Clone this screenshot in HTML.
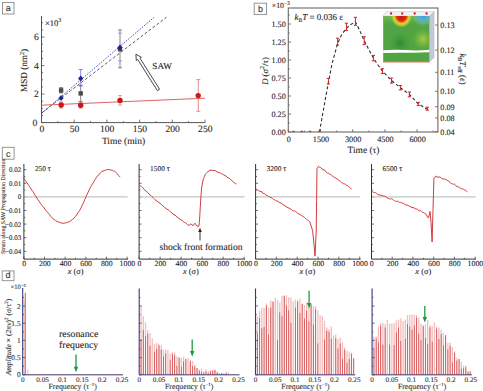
<!DOCTYPE html>
<html><head><meta charset="utf-8"><style>
html,body{margin:0;padding:0;background:#fff;width:483px;height:391px;overflow:hidden;}
svg{display:block;text-rendering:geometricPrecision;}
text{stroke:#333;stroke-width:0.1px;}
</style></head><body>
<svg width="483" height="391" viewBox="0 0 483 391"><rect x="2.5" y="2.5" width="11.5" height="11.5" fill="#fff" stroke="#8a8a8a" stroke-width="0.9"/>
<text x="8.25" y="11.40" font-size="9" text-anchor="middle" font-family='"Liberation Sans", sans-serif' fill="#333" >a</text>
<line x1="41.50" y1="16.00" x2="41.50" y2="122.60" stroke="#555" stroke-width="1" />
<line x1="41.50" y1="122.60" x2="205.20" y2="122.60" stroke="#555" stroke-width="1" />
<line x1="41.50" y1="122.60" x2="44.50" y2="122.60" stroke="#555" stroke-width="0.8" />
<line x1="41.50" y1="115.47" x2="43.10" y2="115.47" stroke="#555" stroke-width="0.8" />
<line x1="41.50" y1="108.35" x2="43.10" y2="108.35" stroke="#555" stroke-width="0.8" />
<line x1="41.50" y1="101.22" x2="43.10" y2="101.22" stroke="#555" stroke-width="0.8" />
<line x1="41.50" y1="94.10" x2="44.50" y2="94.10" stroke="#555" stroke-width="0.8" />
<line x1="41.50" y1="86.97" x2="43.10" y2="86.97" stroke="#555" stroke-width="0.8" />
<line x1="41.50" y1="79.85" x2="43.10" y2="79.85" stroke="#555" stroke-width="0.8" />
<line x1="41.50" y1="72.72" x2="43.10" y2="72.72" stroke="#555" stroke-width="0.8" />
<line x1="41.50" y1="65.60" x2="44.50" y2="65.60" stroke="#555" stroke-width="0.8" />
<line x1="41.50" y1="58.47" x2="43.10" y2="58.47" stroke="#555" stroke-width="0.8" />
<line x1="41.50" y1="51.35" x2="43.10" y2="51.35" stroke="#555" stroke-width="0.8" />
<line x1="41.50" y1="44.22" x2="43.10" y2="44.22" stroke="#555" stroke-width="0.8" />
<line x1="41.50" y1="37.10" x2="44.50" y2="37.10" stroke="#555" stroke-width="0.8" />
<line x1="41.50" y1="29.97" x2="43.10" y2="29.97" stroke="#555" stroke-width="0.8" />
<line x1="41.50" y1="22.85" x2="43.10" y2="22.85" stroke="#555" stroke-width="0.8" />
<line x1="41.50" y1="122.60" x2="41.50" y2="119.60" stroke="#555" stroke-width="0.8" />
<line x1="57.85" y1="122.60" x2="57.85" y2="121.00" stroke="#555" stroke-width="0.8" />
<line x1="74.20" y1="122.60" x2="74.20" y2="119.60" stroke="#555" stroke-width="0.8" />
<line x1="90.55" y1="122.60" x2="90.55" y2="121.00" stroke="#555" stroke-width="0.8" />
<line x1="106.90" y1="122.60" x2="106.90" y2="119.60" stroke="#555" stroke-width="0.8" />
<line x1="123.25" y1="122.60" x2="123.25" y2="121.00" stroke="#555" stroke-width="0.8" />
<line x1="139.60" y1="122.60" x2="139.60" y2="119.60" stroke="#555" stroke-width="0.8" />
<line x1="155.95" y1="122.60" x2="155.95" y2="121.00" stroke="#555" stroke-width="0.8" />
<line x1="172.30" y1="122.60" x2="172.30" y2="119.60" stroke="#555" stroke-width="0.8" />
<line x1="188.65" y1="122.60" x2="188.65" y2="121.00" stroke="#555" stroke-width="0.8" />
<line x1="205.00" y1="122.60" x2="205.00" y2="119.60" stroke="#555" stroke-width="0.8" />
<text x="37.20" y="125.90" font-size="9.6" text-anchor="end" font-family='"Liberation Serif", serif' fill="#222" >0</text>
<text x="38.80" y="97.40" font-size="9.6" text-anchor="end" font-family='"Liberation Serif", serif' fill="#222" >2</text>
<text x="38.80" y="68.90" font-size="9.6" text-anchor="end" font-family='"Liberation Serif", serif' fill="#222" >4</text>
<text x="38.80" y="40.40" font-size="9.6" text-anchor="end" font-family='"Liberation Serif", serif' fill="#222" >6</text>
<text x="41.80" y="131.50" font-size="9.6" text-anchor="middle" font-family='"Liberation Serif", serif' fill="#222" >0</text>
<text x="74.50" y="131.50" font-size="9.6" text-anchor="middle" font-family='"Liberation Serif", serif' fill="#222" >50</text>
<text x="107.20" y="131.50" font-size="9.6" text-anchor="middle" font-family='"Liberation Serif", serif' fill="#222" >100</text>
<text x="139.90" y="131.50" font-size="9.6" text-anchor="middle" font-family='"Liberation Serif", serif' fill="#222" >150</text>
<text x="172.60" y="131.50" font-size="9.6" text-anchor="middle" font-family='"Liberation Serif", serif' fill="#222" >200</text>
<text x="205.30" y="131.50" font-size="9.6" text-anchor="middle" font-family='"Liberation Serif", serif' fill="#222" >250</text>
<text x="123.50" y="144.00" font-size="9.5" text-anchor="middle" font-family='"Liberation Serif", serif' fill="#222" >Time (min)</text>
<text x="45.00" y="25.50" font-size="8.5" text-anchor="start" font-family='"Liberation Serif", serif' fill="#222" >×10<tspan font-size="6" dy="-3.5">3</tspan></text>
<text transform="translate(27,70.5) rotate(-90)" font-size="9.2" text-anchor="middle" font-family='"Liberation Serif", serif' fill="#222">MSD (nm<tspan font-size="6" dy="-3.5">2</tspan><tspan dy="3.5">)</tspan></text>
<line x1="41.50" y1="113.40" x2="154.20" y2="17.20" stroke="#3a3ac8" stroke-width="0.9" stroke-dasharray="1.6,1.4"/>
<line x1="41.50" y1="113.00" x2="166.50" y2="17.20" stroke="#333" stroke-width="0.8" stroke-dasharray="3,2"/>
<line x1="41.50" y1="105.20" x2="205.00" y2="98.20" stroke="#dc5050" stroke-width="0.9" />
<line x1="61.10" y1="87.60" x2="61.10" y2="93.00" stroke="#777" stroke-width="0.9" />
<line x1="59.10" y1="87.60" x2="63.10" y2="87.60" stroke="#777" stroke-width="0.9" />
<line x1="59.10" y1="93.00" x2="63.10" y2="93.00" stroke="#777" stroke-width="0.9" />
<line x1="80.70" y1="85.30" x2="80.70" y2="101.40" stroke="#777" stroke-width="0.9" />
<line x1="78.70" y1="85.30" x2="82.70" y2="85.30" stroke="#777" stroke-width="0.9" />
<line x1="78.70" y1="101.40" x2="82.70" y2="101.40" stroke="#777" stroke-width="0.9" />
<line x1="120.00" y1="29.90" x2="120.00" y2="67.80" stroke="#6a6a6a" stroke-width="0.8" />
<line x1="118.00" y1="29.90" x2="122.00" y2="29.90" stroke="#6a6a6a" stroke-width="0.8" />
<line x1="118.00" y1="67.80" x2="122.00" y2="67.80" stroke="#6a6a6a" stroke-width="0.8" />
<line x1="80.70" y1="69.50" x2="80.70" y2="86.00" stroke="#6a6ad0" stroke-width="0.8" />
<line x1="78.70" y1="69.50" x2="82.70" y2="69.50" stroke="#6a6ad0" stroke-width="0.8" />
<line x1="78.70" y1="86.00" x2="82.70" y2="86.00" stroke="#6a6ad0" stroke-width="0.8" />
<line x1="118.00" y1="33.20" x2="122.00" y2="33.20" stroke="#8a8ad8" stroke-width="0.8" />
<line x1="118.00" y1="60.80" x2="122.00" y2="60.80" stroke="#8a8ad8" stroke-width="0.8" />
<line x1="61.10" y1="102.00" x2="61.10" y2="108.00" stroke="#e07a7a" stroke-width="0.9" />
<line x1="59.10" y1="102.00" x2="63.10" y2="102.00" stroke="#e07a7a" stroke-width="0.9" />
<line x1="59.10" y1="108.00" x2="63.10" y2="108.00" stroke="#e07a7a" stroke-width="0.9" />
<line x1="80.70" y1="102.00" x2="80.70" y2="108.00" stroke="#e07a7a" stroke-width="0.9" />
<line x1="78.70" y1="102.00" x2="82.70" y2="102.00" stroke="#e07a7a" stroke-width="0.9" />
<line x1="78.70" y1="108.00" x2="82.70" y2="108.00" stroke="#e07a7a" stroke-width="0.9" />
<line x1="120.00" y1="95.50" x2="120.00" y2="105.10" stroke="#c8a0a0" stroke-width="0.9" />
<line x1="118.00" y1="95.50" x2="122.00" y2="95.50" stroke="#c8a0a0" stroke-width="0.9" />
<line x1="118.00" y1="105.10" x2="122.00" y2="105.10" stroke="#c8a0a0" stroke-width="0.9" />
<line x1="198.30" y1="79.60" x2="198.30" y2="111.30" stroke="#e08080" stroke-width="0.9" />
<line x1="196.30" y1="79.60" x2="200.30" y2="79.60" stroke="#e08080" stroke-width="0.9" />
<line x1="196.30" y1="111.30" x2="200.30" y2="111.30" stroke="#e08080" stroke-width="0.9" />
<rect x="58.90" y="88.20" width="4.4" height="4.4" fill="#4a4a4a"/>
<rect x="78.50" y="91.20" width="4.4" height="4.4" fill="#4a4a4a"/>
<rect x="117.80" y="47.00" width="4.4" height="4.4" fill="#4a4a4a"/>
<polygon points="61.1,95 63.7,98 61.1,101 58.5,98" fill="#22228e"/>
<polygon points="80.7,75.4 83.3,78.4 80.7,81.4 78.10000000000001,78.4" fill="#22228e"/>
<polygon points="120,44.6 122.6,47.6 120,50.6 117.4,47.6" fill="#22228e"/>
<circle cx="61.2" cy="105" r="2.7" fill="#c81818"/>
<circle cx="80.7" cy="105.2" r="2.7" fill="#c81818"/>
<circle cx="120" cy="100.5" r="2.7" fill="#c81818"/>
<circle cx="198.2" cy="95.6" r="2.7" fill="#c81818"/>
<polygon points="159.60,89.31 139.94,58.16 141.37,57.25 135.90,54.20 136.30,60.45 137.74,59.54 157.40,90.69" fill="#fff" stroke="#333" stroke-width="0.9"/>
<text x="152.30" y="68.80" font-size="9.2" text-anchor="start" font-family='"Liberation Serif", serif' fill="#222" >SAW</text>
<rect x="254.2" y="3.2" width="12.4" height="11.4" fill="#fff" stroke="#8a8a8a" stroke-width="0.9"/>
<text x="260.40" y="12.00" font-size="9" text-anchor="middle" font-family='"Liberation Sans", sans-serif' fill="#333" >b</text>
<rect x="288.3" y="8.0" width="149.59999999999997" height="124.0" fill="none" stroke="#6a6a6a" stroke-width="1.1"/>
<line x1="288.30" y1="132.00" x2="291.10" y2="132.00" stroke="#6a6a6a" stroke-width="0.9" />
<line x1="288.30" y1="123.00" x2="289.80" y2="123.00" stroke="#6a6a6a" stroke-width="0.9" />
<line x1="288.30" y1="114.00" x2="291.10" y2="114.00" stroke="#6a6a6a" stroke-width="0.9" />
<line x1="288.30" y1="105.00" x2="289.80" y2="105.00" stroke="#6a6a6a" stroke-width="0.9" />
<line x1="288.30" y1="96.00" x2="291.10" y2="96.00" stroke="#6a6a6a" stroke-width="0.9" />
<line x1="288.30" y1="87.00" x2="289.80" y2="87.00" stroke="#6a6a6a" stroke-width="0.9" />
<line x1="288.30" y1="78.00" x2="291.10" y2="78.00" stroke="#6a6a6a" stroke-width="0.9" />
<line x1="288.30" y1="69.00" x2="289.80" y2="69.00" stroke="#6a6a6a" stroke-width="0.9" />
<line x1="288.30" y1="60.00" x2="291.10" y2="60.00" stroke="#6a6a6a" stroke-width="0.9" />
<line x1="288.30" y1="51.00" x2="289.80" y2="51.00" stroke="#6a6a6a" stroke-width="0.9" />
<line x1="288.30" y1="42.00" x2="291.10" y2="42.00" stroke="#6a6a6a" stroke-width="0.9" />
<line x1="288.30" y1="33.00" x2="289.80" y2="33.00" stroke="#6a6a6a" stroke-width="0.9" />
<line x1="288.30" y1="24.00" x2="291.10" y2="24.00" stroke="#6a6a6a" stroke-width="0.9" />
<line x1="288.30" y1="15.00" x2="289.80" y2="15.00" stroke="#6a6a6a" stroke-width="0.9" />
<line x1="288.30" y1="132.00" x2="288.30" y2="129.20" stroke="#6a6a6a" stroke-width="0.9" />
<line x1="304.40" y1="132.00" x2="304.40" y2="130.50" stroke="#6a6a6a" stroke-width="0.9" />
<line x1="320.50" y1="132.00" x2="320.50" y2="129.20" stroke="#6a6a6a" stroke-width="0.9" />
<line x1="336.60" y1="132.00" x2="336.60" y2="130.50" stroke="#6a6a6a" stroke-width="0.9" />
<line x1="352.70" y1="132.00" x2="352.70" y2="129.20" stroke="#6a6a6a" stroke-width="0.9" />
<line x1="368.80" y1="132.00" x2="368.80" y2="130.50" stroke="#6a6a6a" stroke-width="0.9" />
<line x1="384.90" y1="132.00" x2="384.90" y2="129.20" stroke="#6a6a6a" stroke-width="0.9" />
<line x1="401.00" y1="132.00" x2="401.00" y2="130.50" stroke="#6a6a6a" stroke-width="0.9" />
<line x1="417.10" y1="132.00" x2="417.10" y2="129.20" stroke="#6a6a6a" stroke-width="0.9" />
<line x1="433.20" y1="132.00" x2="433.20" y2="130.50" stroke="#6a6a6a" stroke-width="0.9" />
<text x="285.80" y="134.90" font-size="8.2" text-anchor="end" font-family='"Liberation Serif", serif' fill="#222" >0.00</text>
<text x="285.80" y="116.90" font-size="8.2" text-anchor="end" font-family='"Liberation Serif", serif' fill="#222" >0.25</text>
<text x="285.80" y="98.90" font-size="8.2" text-anchor="end" font-family='"Liberation Serif", serif' fill="#222" >0.50</text>
<text x="285.80" y="80.90" font-size="8.2" text-anchor="end" font-family='"Liberation Serif", serif' fill="#222" >0.75</text>
<text x="285.80" y="62.90" font-size="8.2" text-anchor="end" font-family='"Liberation Serif", serif' fill="#222" >1.00</text>
<text x="285.80" y="44.90" font-size="8.2" text-anchor="end" font-family='"Liberation Serif", serif' fill="#222" >1.25</text>
<text x="285.80" y="26.90" font-size="8.2" text-anchor="end" font-family='"Liberation Serif", serif' fill="#222" >1.50</text>
<text x="288.80" y="141.50" font-size="8.2" text-anchor="middle" font-family='"Liberation Serif", serif' fill="#222" >0</text>
<text x="321.00" y="141.50" font-size="8.2" text-anchor="middle" font-family='"Liberation Serif", serif' fill="#222" >1500</text>
<text x="353.20" y="141.50" font-size="8.2" text-anchor="middle" font-family='"Liberation Serif", serif' fill="#222" >3000</text>
<text x="385.40" y="141.50" font-size="8.2" text-anchor="middle" font-family='"Liberation Serif", serif' fill="#222" >4500</text>
<text x="417.60" y="141.50" font-size="8.2" text-anchor="middle" font-family='"Liberation Serif", serif' fill="#222" >6000</text>
<text x="363.50" y="153.20" font-size="9.4" text-anchor="middle" font-family='"Liberation Serif", serif' fill="#222" >Time (τ)</text>
<text x="271.80" y="8.30" font-size="7.8" text-anchor="start" font-family='"Liberation Serif", serif' fill="#222" >×10<tspan font-size="5.5" dy="-3">−3</tspan></text>
<text transform="translate(267.8,71) rotate(-90)" font-size="8.6" text-anchor="middle" font-family='"Liberation Serif", serif' fill="#222"><tspan font-style="italic">D</tspan> (σ<tspan font-size="6" dy="-3.5">2</tspan><tspan dy="3.5">/τ)</tspan></text>
<text x="294.50" y="19.80" font-size="9.0" text-anchor="start" font-family='"Liberation Serif", serif' fill="#222" ><tspan font-style="italic">k</tspan><tspan font-size="5.5" dy="2">B</tspan><tspan dy="-2" font-style="italic">T</tspan> = 0.036 ε</text>
<line x1="437.90" y1="25.00" x2="435.10" y2="25.00" stroke="#6a6a6a" stroke-width="0.9" />
<text x="440.30" y="27.90" font-size="8.2" text-anchor="start" font-family='"Liberation Serif", serif' fill="#222" >0.13</text>
<line x1="437.90" y1="50.10" x2="435.10" y2="50.10" stroke="#6a6a6a" stroke-width="0.9" />
<text x="440.30" y="53.00" font-size="8.2" text-anchor="start" font-family='"Liberation Serif", serif' fill="#222" >0.12</text>
<line x1="437.90" y1="72.30" x2="435.10" y2="72.30" stroke="#6a6a6a" stroke-width="0.9" />
<text x="440.30" y="75.20" font-size="8.2" text-anchor="start" font-family='"Liberation Serif", serif' fill="#222" >0.11</text>
<line x1="437.90" y1="91.30" x2="435.10" y2="91.30" stroke="#6a6a6a" stroke-width="0.9" />
<text x="440.30" y="94.20" font-size="8.2" text-anchor="start" font-family='"Liberation Serif", serif' fill="#222" >0.10</text>
<line x1="437.90" y1="106.70" x2="435.10" y2="106.70" stroke="#6a6a6a" stroke-width="0.9" />
<text x="440.30" y="109.60" font-size="8.2" text-anchor="start" font-family='"Liberation Serif", serif' fill="#222" >0.09</text>
<line x1="437.90" y1="117.90" x2="435.10" y2="117.90" stroke="#6a6a6a" stroke-width="0.9" />
<text x="440.30" y="120.80" font-size="8.2" text-anchor="start" font-family='"Liberation Serif", serif' fill="#222" >0.08</text>
<line x1="437.90" y1="131.60" x2="435.10" y2="131.60" stroke="#6a6a6a" stroke-width="0.9" />
<text x="440.30" y="134.50" font-size="8.2" text-anchor="start" font-family='"Liberation Serif", serif' fill="#222" >0.04</text>
<text transform="translate(459.5,69) rotate(90)" font-size="8.8" text-anchor="middle" font-family='"Liberation Serif", serif' fill="#222"><tspan font-style="italic">k</tspan><tspan font-size="6" dy="2">B</tspan><tspan dy="-2" font-style="italic">T</tspan><tspan font-size="6" dy="2">eff</tspan><tspan dy="-2"> (ε)</tspan></text>
<polyline points="319.50,132.00 322.50,115.00 326.80,91.00 332.00,64.00 337.60,43.50 341.50,35.00 345.80,29.00 350.00,25.00 355.40,21.80 359.50,30.00 364.20,40.70 368.80,49.50 373.40,58.10 378.00,65.00 382.60,71.10 391.50,80.60 400.40,87.70 409.40,94.40 418.30,103.90 428.20,109.80" fill="none" stroke="#333" stroke-width="1.1" stroke-linejoin="round" stroke-dasharray="3.2,2.2"/>
<line x1="328.40" y1="78.40" x2="328.40" y2="84.00" stroke="#d42020" stroke-width="1.0" />
<line x1="326.80" y1="78.40" x2="330.00" y2="78.40" stroke="#d42020" stroke-width="1.0" />
<line x1="326.80" y1="84.00" x2="330.00" y2="84.00" stroke="#d42020" stroke-width="1.0" />
<line x1="337.60" y1="38.20" x2="337.60" y2="45.20" stroke="#d42020" stroke-width="1.0" />
<line x1="336.00" y1="38.20" x2="339.20" y2="38.20" stroke="#d42020" stroke-width="1.0" />
<line x1="336.00" y1="45.20" x2="339.20" y2="45.20" stroke="#d42020" stroke-width="1.0" />
<line x1="346.40" y1="23.20" x2="346.40" y2="30.40" stroke="#d42020" stroke-width="1.0" />
<line x1="344.80" y1="23.20" x2="348.00" y2="23.20" stroke="#d42020" stroke-width="1.0" />
<line x1="344.80" y1="30.40" x2="348.00" y2="30.40" stroke="#d42020" stroke-width="1.0" />
<line x1="355.40" y1="17.30" x2="355.40" y2="25.30" stroke="#d42020" stroke-width="1.0" />
<line x1="353.80" y1="17.30" x2="357.00" y2="17.30" stroke="#d42020" stroke-width="1.0" />
<line x1="353.80" y1="25.30" x2="357.00" y2="25.30" stroke="#d42020" stroke-width="1.0" />
<line x1="364.20" y1="36.80" x2="364.20" y2="44.60" stroke="#d42020" stroke-width="1.0" />
<line x1="362.60" y1="36.80" x2="365.80" y2="36.80" stroke="#d42020" stroke-width="1.0" />
<line x1="362.60" y1="44.60" x2="365.80" y2="44.60" stroke="#d42020" stroke-width="1.0" />
<line x1="373.40" y1="55.40" x2="373.40" y2="60.80" stroke="#d42020" stroke-width="1.0" />
<line x1="371.80" y1="55.40" x2="375.00" y2="55.40" stroke="#d42020" stroke-width="1.0" />
<line x1="371.80" y1="60.80" x2="375.00" y2="60.80" stroke="#d42020" stroke-width="1.0" />
<line x1="382.50" y1="68.80" x2="382.50" y2="73.40" stroke="#d42020" stroke-width="1.0" />
<line x1="380.90" y1="68.80" x2="384.10" y2="68.80" stroke="#d42020" stroke-width="1.0" />
<line x1="380.90" y1="73.40" x2="384.10" y2="73.40" stroke="#d42020" stroke-width="1.0" />
<line x1="391.50" y1="78.10" x2="391.50" y2="83.10" stroke="#d42020" stroke-width="1.0" />
<line x1="389.90" y1="78.10" x2="393.10" y2="78.10" stroke="#d42020" stroke-width="1.0" />
<line x1="389.90" y1="83.10" x2="393.10" y2="83.10" stroke="#d42020" stroke-width="1.0" />
<line x1="400.40" y1="85.50" x2="400.40" y2="89.90" stroke="#d42020" stroke-width="1.0" />
<line x1="398.80" y1="85.50" x2="402.00" y2="85.50" stroke="#d42020" stroke-width="1.0" />
<line x1="398.80" y1="89.90" x2="402.00" y2="89.90" stroke="#d42020" stroke-width="1.0" />
<line x1="409.40" y1="92.00" x2="409.40" y2="96.80" stroke="#d42020" stroke-width="1.0" />
<line x1="407.80" y1="92.00" x2="411.00" y2="92.00" stroke="#d42020" stroke-width="1.0" />
<line x1="407.80" y1="96.80" x2="411.00" y2="96.80" stroke="#d42020" stroke-width="1.0" />
<line x1="418.30" y1="102.40" x2="418.30" y2="105.40" stroke="#d42020" stroke-width="1.0" />
<line x1="416.70" y1="102.40" x2="419.90" y2="102.40" stroke="#d42020" stroke-width="1.0" />
<line x1="416.70" y1="105.40" x2="419.90" y2="105.40" stroke="#d42020" stroke-width="1.0" />
<line x1="427.30" y1="107.20" x2="427.30" y2="110.20" stroke="#d42020" stroke-width="1.0" />
<line x1="425.70" y1="107.20" x2="428.90" y2="107.20" stroke="#d42020" stroke-width="1.0" />
<line x1="425.70" y1="110.20" x2="428.90" y2="110.20" stroke="#d42020" stroke-width="1.0" />
<line x1="292.30" y1="131.40" x2="294.70" y2="131.40" stroke="#d42020" stroke-width="1.2" />
<line x1="300.60" y1="131.40" x2="303.00" y2="131.40" stroke="#d42020" stroke-width="1.2" />
<line x1="308.80" y1="131.40" x2="311.20" y2="131.40" stroke="#d42020" stroke-width="1.2" />
<line x1="318.20" y1="131.40" x2="320.60" y2="131.40" stroke="#d42020" stroke-width="1.2" />
<defs>
<clipPath id="fc"><rect x="383.1" y="16.1" width="46.5" height="45.8"/></clipPath>
<radialGradient id="hot" gradientUnits="userSpaceOnUse" cx="401.5" cy="15.3" r="11" gradientTransform="translate(0,-2.3) scale(1,1.15)">
<stop offset="0" stop-color="#c40a0a"/><stop offset="0.45" stop-color="#dc2a10"/><stop offset="0.66" stop-color="#f0cc20"/><stop offset="0.82" stop-color="#d0dc50" stop-opacity="0.6"/><stop offset="1" stop-color="#8cc040" stop-opacity="0"/></radialGradient>
<radialGradient id="cold" gradientUnits="userSpaceOnUse" cx="423" cy="15" r="12">
<stop offset="0" stop-color="#3a98e8"/><stop offset="0.4" stop-color="#50b0d8"/><stop offset="0.75" stop-color="#70b890" stop-opacity="0.6"/><stop offset="1" stop-color="#60b050" stop-opacity="0"/></radialGradient>
<radialGradient id="ylw" gradientUnits="userSpaceOnUse" cx="423" cy="39" r="11">
<stop offset="0" stop-color="#a8cc40"/><stop offset="1" stop-color="#78b840" stop-opacity="0"/></radialGradient>
<radialGradient id="dk" gradientUnits="userSpaceOnUse" cx="400" cy="43" r="11">
<stop offset="0" stop-color="#2e8a38"/><stop offset="1" stop-color="#3a9a3a" stop-opacity="0"/></radialGradient>
<linearGradient id="tg" x1="0" y1="0" x2="0" y2="1"><stop offset="0" stop-color="#70b850"/><stop offset="1" stop-color="#70b850" stop-opacity="0"/></linearGradient>
</defs>
<polygon points="383.1,16.1 385.70000000000005,11.600000000000001 434.1,11.600000000000001 429.6,16.1" fill="#f2f2f6" stroke="#c0c0cc" stroke-width="0.5"/>
<polygon points="429.6,16.1 434.1,11.600000000000001 434.1,57.4 429.6,61.9" fill="#c4c8d4" stroke="#a8b0c8" stroke-width="0.4"/>
<g clip-path="url(#fc)"><rect x="383.1" y="16.1" width="46.5" height="45.8" fill="#52a442"/>
<rect x="383.1" y="16.1" width="46.5" height="8" fill="url(#tg)"/>
<rect x="383.1" y="16.1" width="46.5" height="45.8" fill="url(#dk)"/>
<rect x="383.1" y="16.1" width="46.5" height="45.8" fill="url(#ylw)"/>
<rect x="383.1" y="16.1" width="46.5" height="45.8" fill="url(#cold)"/>
<rect x="383.1" y="16.1" width="46.5" height="45.8" fill="url(#hot)"/>
<path d="M383.1,50.300000000000004 Q395.1,49.300000000000004 406.1,50.1 T429.6,49.7 L429.6,52.300000000000004 Q418.1,52.9 406.1,52.7 T383.1,53.0 Z" fill="#fff"/></g>
<line x1="383.1" y1="62.199999999999996" x2="429.6" y2="62.199999999999996" stroke="#e07050" stroke-width="0.7"/>
<circle cx="391.1" cy="13.5" r="1.15" fill="#d01818"/>
<circle cx="402.2" cy="13.5" r="1.15" fill="#d01818"/>
<circle cx="414.7" cy="13.5" r="1.15" fill="#d01818"/>
<circle cx="426.6" cy="13.5" r="1.15" fill="#d01818"/>
<rect x="2.3" y="147.3" width="11.8" height="11.9" fill="#fff" stroke="#8a8a8a" stroke-width="0.9"/>
<text x="8.20" y="156.60" font-size="9" text-anchor="middle" font-family='"Liberation Sans", sans-serif' fill="#333" >c</text>
<line x1="23.90" y1="164.00" x2="23.90" y2="259.10" stroke="#333" stroke-width="1" />
<line x1="23.90" y1="259.10" x2="128.10" y2="259.10" stroke="#333" stroke-width="1" />
<line x1="23.90" y1="169.70" x2="26.40" y2="169.70" stroke="#333" stroke-width="0.7" />
<line x1="23.90" y1="176.50" x2="25.30" y2="176.50" stroke="#333" stroke-width="0.7" />
<line x1="23.90" y1="183.30" x2="26.40" y2="183.30" stroke="#333" stroke-width="0.7" />
<line x1="23.90" y1="190.10" x2="25.30" y2="190.10" stroke="#333" stroke-width="0.7" />
<line x1="23.90" y1="196.90" x2="26.40" y2="196.90" stroke="#333" stroke-width="0.7" />
<line x1="23.90" y1="203.70" x2="25.30" y2="203.70" stroke="#333" stroke-width="0.7" />
<line x1="23.90" y1="210.50" x2="26.40" y2="210.50" stroke="#333" stroke-width="0.7" />
<line x1="23.90" y1="217.30" x2="25.30" y2="217.30" stroke="#333" stroke-width="0.7" />
<line x1="23.90" y1="224.10" x2="26.40" y2="224.10" stroke="#333" stroke-width="0.7" />
<line x1="23.90" y1="230.90" x2="25.30" y2="230.90" stroke="#333" stroke-width="0.7" />
<line x1="23.90" y1="237.70" x2="26.40" y2="237.70" stroke="#333" stroke-width="0.7" />
<line x1="23.90" y1="244.50" x2="25.30" y2="244.50" stroke="#333" stroke-width="0.7" />
<line x1="23.90" y1="251.30" x2="26.40" y2="251.30" stroke="#333" stroke-width="0.7" />
<line x1="23.90" y1="259.10" x2="23.90" y2="256.60" stroke="#333" stroke-width="0.7" />
<line x1="34.22" y1="259.10" x2="34.22" y2="257.70" stroke="#333" stroke-width="0.7" />
<line x1="44.54" y1="259.10" x2="44.54" y2="256.60" stroke="#333" stroke-width="0.7" />
<line x1="54.86" y1="259.10" x2="54.86" y2="257.70" stroke="#333" stroke-width="0.7" />
<line x1="65.18" y1="259.10" x2="65.18" y2="256.60" stroke="#333" stroke-width="0.7" />
<line x1="75.50" y1="259.10" x2="75.50" y2="257.70" stroke="#333" stroke-width="0.7" />
<line x1="85.82" y1="259.10" x2="85.82" y2="256.60" stroke="#333" stroke-width="0.7" />
<line x1="96.14" y1="259.10" x2="96.14" y2="257.70" stroke="#333" stroke-width="0.7" />
<line x1="106.46" y1="259.10" x2="106.46" y2="256.60" stroke="#333" stroke-width="0.7" />
<line x1="116.78" y1="259.10" x2="116.78" y2="257.70" stroke="#333" stroke-width="0.7" />
<line x1="127.10" y1="259.10" x2="127.10" y2="256.60" stroke="#333" stroke-width="0.7" />
<text x="24.20" y="266.00" font-size="7.8" text-anchor="middle" font-family='"Liberation Serif", serif' fill="#222" >0</text>
<text x="44.84" y="266.00" font-size="7.8" text-anchor="middle" font-family='"Liberation Serif", serif' fill="#222" >200</text>
<text x="65.48" y="266.00" font-size="7.8" text-anchor="middle" font-family='"Liberation Serif", serif' fill="#222" >400</text>
<text x="86.12" y="266.00" font-size="7.8" text-anchor="middle" font-family='"Liberation Serif", serif' fill="#222" >600</text>
<text x="106.76" y="266.00" font-size="7.8" text-anchor="middle" font-family='"Liberation Serif", serif' fill="#222" >800</text>
<text x="127.40" y="266.00" font-size="7.8" text-anchor="middle" font-family='"Liberation Serif", serif' fill="#222" >1000</text>
<text x="75.70" y="273.50" font-size="8.4" text-anchor="middle" font-family='"Liberation Serif", serif' fill="#222" ><tspan font-style="italic">x</tspan> (σ)</text>
<line x1="24.40" y1="196.90" x2="127.60" y2="196.90" stroke="#c4c4c4" stroke-width="1.1" />
<text x="34.90" y="171.30" font-size="7.4" text-anchor="start" font-family='"Liberation Serif", serif' fill="#222" >250 τ</text>
<polyline points="23.60,177.58 25.11,180.22 26.19,181.76 27.28,183.04 28.39,184.84 29.50,186.47 30.58,188.25 31.66,189.99 32.77,191.30 33.88,192.98 34.89,195.03 35.90,196.36 37.57,199.19 39.04,201.06 40.50,203.47 42.01,205.57 43.50,207.04 45.00,209.27 46.49,211.19 47.99,212.64 49.50,214.52 51.07,216.61 52.66,218.54 54.20,219.63 55.64,220.59 57.04,221.51 58.50,221.92 60.07,222.58 61.69,223.10 63.30,223.30 64.89,223.02 66.46,222.67 68.00,222.13 69.50,221.61 70.97,220.66 72.40,219.41 73.80,218.54 75.16,216.77 76.50,215.09 77.85,212.91 79.18,211.34 80.40,209.22 81.44,206.79 82.38,204.94 83.30,203.13 84.13,201.17 84.94,199.28 86.10,196.35 87.81,192.94 88.84,190.72 89.87,188.38 90.93,186.55 92.00,184.73 93.11,182.90 94.23,180.89 95.38,179.25 96.54,177.24 97.57,176.00 98.60,174.98 100.22,172.96 101.59,171.67 103.00,171.03 104.60,170.41 106.23,169.95 107.70,169.52 108.94,169.54 110.02,169.77 111.00,170.17 111.82,170.21 112.54,170.39 113.40,170.89 114.53,171.32 115.79,172.22 117.00,173.62 118.21,175.05 119.39,176.19 120.20,177.10" fill="none" stroke="#d43a3a" stroke-width="1.0" stroke-linejoin="round" />
<line x1="139.10" y1="164.00" x2="139.10" y2="259.10" stroke="#333" stroke-width="1" />
<line x1="139.10" y1="259.10" x2="245.10" y2="259.10" stroke="#333" stroke-width="1" />
<line x1="139.10" y1="169.70" x2="141.60" y2="169.70" stroke="#333" stroke-width="0.7" />
<line x1="139.10" y1="176.50" x2="140.50" y2="176.50" stroke="#333" stroke-width="0.7" />
<line x1="139.10" y1="183.30" x2="141.60" y2="183.30" stroke="#333" stroke-width="0.7" />
<line x1="139.10" y1="190.10" x2="140.50" y2="190.10" stroke="#333" stroke-width="0.7" />
<line x1="139.10" y1="196.90" x2="141.60" y2="196.90" stroke="#333" stroke-width="0.7" />
<line x1="139.10" y1="203.70" x2="140.50" y2="203.70" stroke="#333" stroke-width="0.7" />
<line x1="139.10" y1="210.50" x2="141.60" y2="210.50" stroke="#333" stroke-width="0.7" />
<line x1="139.10" y1="217.30" x2="140.50" y2="217.30" stroke="#333" stroke-width="0.7" />
<line x1="139.10" y1="224.10" x2="141.60" y2="224.10" stroke="#333" stroke-width="0.7" />
<line x1="139.10" y1="230.90" x2="140.50" y2="230.90" stroke="#333" stroke-width="0.7" />
<line x1="139.10" y1="237.70" x2="141.60" y2="237.70" stroke="#333" stroke-width="0.7" />
<line x1="139.10" y1="244.50" x2="140.50" y2="244.50" stroke="#333" stroke-width="0.7" />
<line x1="139.10" y1="251.30" x2="141.60" y2="251.30" stroke="#333" stroke-width="0.7" />
<line x1="139.10" y1="259.10" x2="139.10" y2="256.60" stroke="#333" stroke-width="0.7" />
<line x1="149.60" y1="259.10" x2="149.60" y2="257.70" stroke="#333" stroke-width="0.7" />
<line x1="160.10" y1="259.10" x2="160.10" y2="256.60" stroke="#333" stroke-width="0.7" />
<line x1="170.60" y1="259.10" x2="170.60" y2="257.70" stroke="#333" stroke-width="0.7" />
<line x1="181.10" y1="259.10" x2="181.10" y2="256.60" stroke="#333" stroke-width="0.7" />
<line x1="191.60" y1="259.10" x2="191.60" y2="257.70" stroke="#333" stroke-width="0.7" />
<line x1="202.10" y1="259.10" x2="202.10" y2="256.60" stroke="#333" stroke-width="0.7" />
<line x1="212.60" y1="259.10" x2="212.60" y2="257.70" stroke="#333" stroke-width="0.7" />
<line x1="223.10" y1="259.10" x2="223.10" y2="256.60" stroke="#333" stroke-width="0.7" />
<line x1="233.60" y1="259.10" x2="233.60" y2="257.70" stroke="#333" stroke-width="0.7" />
<line x1="244.10" y1="259.10" x2="244.10" y2="256.60" stroke="#333" stroke-width="0.7" />
<text x="139.40" y="266.00" font-size="7.8" text-anchor="middle" font-family='"Liberation Serif", serif' fill="#222" >0</text>
<text x="160.40" y="266.00" font-size="7.8" text-anchor="middle" font-family='"Liberation Serif", serif' fill="#222" >200</text>
<text x="181.40" y="266.00" font-size="7.8" text-anchor="middle" font-family='"Liberation Serif", serif' fill="#222" >400</text>
<text x="202.40" y="266.00" font-size="7.8" text-anchor="middle" font-family='"Liberation Serif", serif' fill="#222" >600</text>
<text x="223.40" y="266.00" font-size="7.8" text-anchor="middle" font-family='"Liberation Serif", serif' fill="#222" >800</text>
<text x="244.40" y="266.00" font-size="7.8" text-anchor="middle" font-family='"Liberation Serif", serif' fill="#222" >1000</text>
<text x="190.90" y="273.50" font-size="8.4" text-anchor="middle" font-family='"Liberation Serif", serif' fill="#222" ><tspan font-style="italic">x</tspan> (σ)</text>
<line x1="139.60" y1="196.90" x2="244.60" y2="196.90" stroke="#c4c4c4" stroke-width="1.1" />
<text x="150.10" y="171.30" font-size="7.4" text-anchor="start" font-family='"Liberation Serif", serif' fill="#222" >1500 τ</text>
<polyline points="139.10,184.72 140.25,185.81 141.40,186.29 142.55,187.41 143.70,189.03 144.85,190.07 146.00,191.12 147.00,191.81 148.00,192.96 149.00,193.90 150.00,194.83 151.00,195.48 152.00,196.61 153.00,197.53 154.00,198.62 155.00,199.67 156.00,200.50 157.00,201.08 158.00,201.87 159.00,202.61 160.00,203.31 161.00,204.17 162.00,205.25 163.00,205.93 164.00,206.75 165.00,207.89 166.00,208.41 167.00,209.21 168.00,209.76 169.00,210.39 170.00,211.38 171.00,212.00 172.00,213.01 173.00,214.10 174.00,214.62 175.00,215.03 176.00,216.28 177.00,216.96 178.00,217.66 179.07,218.56 180.15,219.23 181.22,220.03 182.30,220.50 183.38,221.71 184.45,222.47 185.53,222.69 186.60,223.88 187.80,224.75 189.00,225.47 190.00,224.62 191.00,223.69 192.00,224.95 193.00,225.60 194.00,224.68 195.00,223.20 196.00,224.82 197.00,226.08 198.80,226.17 198.80,226.25 199.00,225.06 199.28,222.70 199.60,218.99 199.94,213.12 200.32,206.20 200.70,200.14 201.04,194.82 201.39,191.06 201.80,186.84 202.29,184.03 202.85,180.85 203.50,178.92 204.26,176.70 205.10,174.89 206.00,173.51 206.95,172.52 207.96,171.68 209.00,170.87 209.99,170.27 211.01,170.14 212.30,170.40 213.97,170.55 215.91,170.84 216.96,171.79 218.00,172.16 219.14,172.81 220.27,172.84 221.48,173.84 222.69,173.98 223.85,175.05 225.00,175.44 226.05,176.08 227.10,177.20 229.10,178.07 231.00,179.82 232.99,181.72 234.88,183.01 236.20,184.40" fill="none" stroke="#d43a3a" stroke-width="1.0" stroke-linejoin="round" />
<line x1="255.60" y1="164.00" x2="255.60" y2="259.10" stroke="#333" stroke-width="1" />
<line x1="255.60" y1="259.10" x2="360.70" y2="259.10" stroke="#333" stroke-width="1" />
<line x1="255.60" y1="169.70" x2="258.10" y2="169.70" stroke="#333" stroke-width="0.7" />
<line x1="255.60" y1="176.50" x2="257.00" y2="176.50" stroke="#333" stroke-width="0.7" />
<line x1="255.60" y1="183.30" x2="258.10" y2="183.30" stroke="#333" stroke-width="0.7" />
<line x1="255.60" y1="190.10" x2="257.00" y2="190.10" stroke="#333" stroke-width="0.7" />
<line x1="255.60" y1="196.90" x2="258.10" y2="196.90" stroke="#333" stroke-width="0.7" />
<line x1="255.60" y1="203.70" x2="257.00" y2="203.70" stroke="#333" stroke-width="0.7" />
<line x1="255.60" y1="210.50" x2="258.10" y2="210.50" stroke="#333" stroke-width="0.7" />
<line x1="255.60" y1="217.30" x2="257.00" y2="217.30" stroke="#333" stroke-width="0.7" />
<line x1="255.60" y1="224.10" x2="258.10" y2="224.10" stroke="#333" stroke-width="0.7" />
<line x1="255.60" y1="230.90" x2="257.00" y2="230.90" stroke="#333" stroke-width="0.7" />
<line x1="255.60" y1="237.70" x2="258.10" y2="237.70" stroke="#333" stroke-width="0.7" />
<line x1="255.60" y1="244.50" x2="257.00" y2="244.50" stroke="#333" stroke-width="0.7" />
<line x1="255.60" y1="251.30" x2="258.10" y2="251.30" stroke="#333" stroke-width="0.7" />
<line x1="255.60" y1="259.10" x2="255.60" y2="256.60" stroke="#333" stroke-width="0.7" />
<line x1="266.01" y1="259.10" x2="266.01" y2="257.70" stroke="#333" stroke-width="0.7" />
<line x1="276.42" y1="259.10" x2="276.42" y2="256.60" stroke="#333" stroke-width="0.7" />
<line x1="286.83" y1="259.10" x2="286.83" y2="257.70" stroke="#333" stroke-width="0.7" />
<line x1="297.24" y1="259.10" x2="297.24" y2="256.60" stroke="#333" stroke-width="0.7" />
<line x1="307.65" y1="259.10" x2="307.65" y2="257.70" stroke="#333" stroke-width="0.7" />
<line x1="318.06" y1="259.10" x2="318.06" y2="256.60" stroke="#333" stroke-width="0.7" />
<line x1="328.47" y1="259.10" x2="328.47" y2="257.70" stroke="#333" stroke-width="0.7" />
<line x1="338.88" y1="259.10" x2="338.88" y2="256.60" stroke="#333" stroke-width="0.7" />
<line x1="349.29" y1="259.10" x2="349.29" y2="257.70" stroke="#333" stroke-width="0.7" />
<line x1="359.70" y1="259.10" x2="359.70" y2="256.60" stroke="#333" stroke-width="0.7" />
<text x="255.90" y="266.00" font-size="7.8" text-anchor="middle" font-family='"Liberation Serif", serif' fill="#222" >0</text>
<text x="276.72" y="266.00" font-size="7.8" text-anchor="middle" font-family='"Liberation Serif", serif' fill="#222" >200</text>
<text x="297.54" y="266.00" font-size="7.8" text-anchor="middle" font-family='"Liberation Serif", serif' fill="#222" >400</text>
<text x="318.36" y="266.00" font-size="7.8" text-anchor="middle" font-family='"Liberation Serif", serif' fill="#222" >600</text>
<text x="339.18" y="266.00" font-size="7.8" text-anchor="middle" font-family='"Liberation Serif", serif' fill="#222" >800</text>
<text x="360.00" y="266.00" font-size="7.8" text-anchor="middle" font-family='"Liberation Serif", serif' fill="#222" >1000</text>
<text x="307.40" y="273.50" font-size="8.4" text-anchor="middle" font-family='"Liberation Serif", serif' fill="#222" ><tspan font-style="italic">x</tspan> (σ)</text>
<line x1="256.10" y1="196.90" x2="360.20" y2="196.90" stroke="#c4c4c4" stroke-width="1.1" />
<text x="266.60" y="171.30" font-size="7.4" text-anchor="start" font-family='"Liberation Serif", serif' fill="#222" >3200 τ</text>
<polyline points="255.60,188.51 256.68,189.47 257.75,189.89 258.82,190.76 259.90,191.40 260.98,191.41 262.05,191.96 263.12,193.49 264.20,193.47 265.27,194.06 266.35,195.51 267.43,195.55 268.50,196.57 269.53,196.76 270.56,197.53 271.59,197.59 272.62,198.71 273.65,199.55 274.68,199.77 275.71,200.60 276.74,201.11 277.77,201.03 278.80,202.38 279.83,202.79 280.86,203.06 281.89,203.35 282.92,204.86 283.95,205.02 284.98,205.88 286.01,206.65 287.04,207.06 288.07,207.87 289.10,207.88 290.19,208.98 291.28,209.24 292.37,210.43 293.46,211.02 294.55,210.81 295.64,211.50 296.73,212.24 297.82,213.71 298.91,213.78 300.00,214.64 301.08,215.03 302.16,216.00 303.23,216.61 304.31,217.31 305.39,218.32 306.47,219.06 307.54,220.16 308.62,220.66 309.70,221.67 311.15,225.99 312.60,230.54 314.00,244.19 315.00,256.13 316.20,231.90 316.60,200.51 317.00,168.65 318.50,166.28 319.61,167.24 320.73,167.48 321.84,168.96 322.95,169.48 324.06,169.96 325.17,170.52 326.29,172.19 327.40,173.14 328.40,172.82 329.41,174.28 330.41,174.53 331.42,174.92 332.42,175.75 333.42,176.95 334.43,177.74 335.43,177.50 336.44,178.80 337.44,178.85 338.45,180.27 339.45,180.51 340.45,181.79 341.46,182.58 342.46,182.73 343.47,183.95 344.47,183.87 345.48,184.28 346.48,185.53 347.48,185.58 348.49,186.44 349.49,187.35 350.50,188.25 351.50,188.80" fill="none" stroke="#d43a3a" stroke-width="1.0" stroke-linejoin="round" />
<line x1="371.50" y1="164.00" x2="371.50" y2="259.10" stroke="#333" stroke-width="1" />
<line x1="371.50" y1="259.10" x2="476.10" y2="259.10" stroke="#333" stroke-width="1" />
<line x1="371.50" y1="169.70" x2="374.00" y2="169.70" stroke="#333" stroke-width="0.7" />
<line x1="371.50" y1="176.50" x2="372.90" y2="176.50" stroke="#333" stroke-width="0.7" />
<line x1="371.50" y1="183.30" x2="374.00" y2="183.30" stroke="#333" stroke-width="0.7" />
<line x1="371.50" y1="190.10" x2="372.90" y2="190.10" stroke="#333" stroke-width="0.7" />
<line x1="371.50" y1="196.90" x2="374.00" y2="196.90" stroke="#333" stroke-width="0.7" />
<line x1="371.50" y1="203.70" x2="372.90" y2="203.70" stroke="#333" stroke-width="0.7" />
<line x1="371.50" y1="210.50" x2="374.00" y2="210.50" stroke="#333" stroke-width="0.7" />
<line x1="371.50" y1="217.30" x2="372.90" y2="217.30" stroke="#333" stroke-width="0.7" />
<line x1="371.50" y1="224.10" x2="374.00" y2="224.10" stroke="#333" stroke-width="0.7" />
<line x1="371.50" y1="230.90" x2="372.90" y2="230.90" stroke="#333" stroke-width="0.7" />
<line x1="371.50" y1="237.70" x2="374.00" y2="237.70" stroke="#333" stroke-width="0.7" />
<line x1="371.50" y1="244.50" x2="372.90" y2="244.50" stroke="#333" stroke-width="0.7" />
<line x1="371.50" y1="251.30" x2="374.00" y2="251.30" stroke="#333" stroke-width="0.7" />
<line x1="371.50" y1="259.10" x2="371.50" y2="256.60" stroke="#333" stroke-width="0.7" />
<line x1="381.86" y1="259.10" x2="381.86" y2="257.70" stroke="#333" stroke-width="0.7" />
<line x1="392.22" y1="259.10" x2="392.22" y2="256.60" stroke="#333" stroke-width="0.7" />
<line x1="402.58" y1="259.10" x2="402.58" y2="257.70" stroke="#333" stroke-width="0.7" />
<line x1="412.94" y1="259.10" x2="412.94" y2="256.60" stroke="#333" stroke-width="0.7" />
<line x1="423.30" y1="259.10" x2="423.30" y2="257.70" stroke="#333" stroke-width="0.7" />
<line x1="433.66" y1="259.10" x2="433.66" y2="256.60" stroke="#333" stroke-width="0.7" />
<line x1="444.02" y1="259.10" x2="444.02" y2="257.70" stroke="#333" stroke-width="0.7" />
<line x1="454.38" y1="259.10" x2="454.38" y2="256.60" stroke="#333" stroke-width="0.7" />
<line x1="464.74" y1="259.10" x2="464.74" y2="257.70" stroke="#333" stroke-width="0.7" />
<line x1="475.10" y1="259.10" x2="475.10" y2="256.60" stroke="#333" stroke-width="0.7" />
<text x="371.80" y="266.00" font-size="7.8" text-anchor="middle" font-family='"Liberation Serif", serif' fill="#222" >0</text>
<text x="392.52" y="266.00" font-size="7.8" text-anchor="middle" font-family='"Liberation Serif", serif' fill="#222" >200</text>
<text x="413.24" y="266.00" font-size="7.8" text-anchor="middle" font-family='"Liberation Serif", serif' fill="#222" >400</text>
<text x="433.96" y="266.00" font-size="7.8" text-anchor="middle" font-family='"Liberation Serif", serif' fill="#222" >600</text>
<text x="454.68" y="266.00" font-size="7.8" text-anchor="middle" font-family='"Liberation Serif", serif' fill="#222" >800</text>
<text x="475.40" y="266.00" font-size="7.8" text-anchor="middle" font-family='"Liberation Serif", serif' fill="#222" >1000</text>
<text x="423.30" y="273.50" font-size="8.4" text-anchor="middle" font-family='"Liberation Serif", serif' fill="#222" ><tspan font-style="italic">x</tspan> (σ)</text>
<line x1="372.00" y1="196.90" x2="475.60" y2="196.90" stroke="#c4c4c4" stroke-width="1.1" />
<text x="382.50" y="171.30" font-size="7.4" text-anchor="start" font-family='"Liberation Serif", serif' fill="#222" >6500 τ</text>
<polyline points="371.50,191.46 372.56,191.67 373.62,192.44 374.68,192.51 375.74,192.78 376.80,193.61 377.86,194.66 378.92,194.90 379.98,195.24 381.04,194.92 382.10,195.71 383.16,195.76 384.22,196.01 385.28,196.31 386.34,196.84 387.40,198.16 388.42,198.41 389.44,198.77 390.47,199.15 391.49,198.75 392.51,199.29 393.53,200.09 394.55,200.61 395.57,201.16 396.60,201.58 397.62,200.93 398.64,201.99 399.66,202.47 400.68,202.64 401.70,202.60 402.73,203.37 403.75,203.26 404.77,204.74 405.79,205.04 406.81,205.01 407.83,205.08 408.86,206.26 409.88,206.21 410.90,207.00 411.95,207.47 413.00,207.55 414.05,207.95 415.10,208.71 416.15,209.02 417.20,209.19 418.25,209.90 419.30,211.08 420.35,210.60 421.40,211.12 422.45,212.40 423.50,212.47 424.55,213.32 425.60,213.76 426.60,215.06 427.60,217.38 428.60,217.80 430.00,211.39 431.00,222.21 432.10,241.97 433.00,209.71 433.90,178.31 434.95,177.67 436.00,175.97 437.02,176.66 438.04,177.49 439.06,176.82 440.08,177.15 441.10,177.75 442.12,178.82 443.14,179.01 444.16,178.90 445.18,179.40 446.20,179.58 447.21,180.51 448.22,180.53 449.23,181.94 450.24,182.76 451.25,183.40 452.26,183.68 453.27,184.53 454.28,183.87 455.29,184.78 456.30,186.22 457.30,186.54 458.31,186.63 459.32,187.88 460.33,188.02 461.34,188.84 462.35,188.72 463.36,189.15 464.37,190.04 465.38,190.20 466.39,191.08 467.40,191.80" fill="none" stroke="#d43a3a" stroke-width="1.0" stroke-linejoin="round" />
<text transform="translate(4.9,206.3) rotate(-90)" font-size="5.85" text-anchor="middle" font-family='"Liberation Serif", serif' fill="#333">Strain along SAW Propagation Direction</text>
<text x="21.30" y="172.20" font-size="7.0" text-anchor="end" font-family='"Liberation Serif", serif' fill="#222" >0.02</text>
<text x="21.30" y="185.80" font-size="7.0" text-anchor="end" font-family='"Liberation Serif", serif' fill="#222" >0.01</text>
<text x="21.30" y="199.40" font-size="7.0" text-anchor="end" font-family='"Liberation Serif", serif' fill="#222" >0</text>
<text x="21.30" y="213.00" font-size="7.0" text-anchor="end" font-family='"Liberation Serif", serif' fill="#222" >−0.01</text>
<text x="21.30" y="226.60" font-size="7.0" text-anchor="end" font-family='"Liberation Serif", serif' fill="#222" >−0.02</text>
<text x="21.30" y="240.20" font-size="7.0" text-anchor="end" font-family='"Liberation Serif", serif' fill="#222" >−0.03</text>
<text x="21.30" y="253.80" font-size="7.0" text-anchor="end" font-family='"Liberation Serif", serif' fill="#222" >−0.04</text>
<line x1="200.00" y1="240.50" x2="200.00" y2="230.50" stroke="#222" stroke-width="0.9" />
<polygon points="200,227.8 198.2,232 201.8,232" fill="#222"/>
<text x="201.00" y="250.30" font-size="9.5" text-anchor="middle" font-family='"Liberation Serif", serif' fill="#222" >shock front formation</text>
<rect x="2.2" y="270.9" width="11.8" height="9.8" fill="#fff" stroke="#8a8a8a" stroke-width="0.9"/>
<text x="8.10" y="278.10" font-size="9" text-anchor="middle" font-family='"Liberation Sans", sans-serif' fill="#333" >d</text>
<line x1="25.30" y1="292.80" x2="25.30" y2="374.80" stroke="#e07070" stroke-width="1.2" />
<line x1="24.30" y1="300.00" x2="24.30" y2="374.80" stroke="#f0b0b0" stroke-width="1.0" />
<line x1="27.90" y1="369.50" x2="27.90" y2="374.80" stroke="#f0b0b0" stroke-width="1.0" />
<line x1="22.70" y1="288.00" x2="22.70" y2="374.80" stroke="#3a3a78" stroke-width="1.1" />
<line x1="22.70" y1="374.80" x2="123.00" y2="374.80" stroke="#3a3a78" stroke-width="1" />
<line x1="22.70" y1="374.80" x2="123.00" y2="374.80" stroke="#d86a6a" stroke-width="0.6" stroke-dasharray="1.2,4.5"/>
<line x1="22.70" y1="374.80" x2="25.10" y2="374.80" stroke="#3a3a78" stroke-width="0.8" />
<line x1="22.70" y1="366.20" x2="24.00" y2="366.20" stroke="#3a3a78" stroke-width="0.8" />
<line x1="22.70" y1="357.60" x2="25.10" y2="357.60" stroke="#3a3a78" stroke-width="0.8" />
<line x1="22.70" y1="349.00" x2="24.00" y2="349.00" stroke="#3a3a78" stroke-width="0.8" />
<line x1="22.70" y1="340.40" x2="25.10" y2="340.40" stroke="#3a3a78" stroke-width="0.8" />
<line x1="22.70" y1="331.80" x2="24.00" y2="331.80" stroke="#3a3a78" stroke-width="0.8" />
<line x1="22.70" y1="323.20" x2="25.10" y2="323.20" stroke="#3a3a78" stroke-width="0.8" />
<line x1="22.70" y1="314.60" x2="24.00" y2="314.60" stroke="#3a3a78" stroke-width="0.8" />
<line x1="22.70" y1="306.00" x2="25.10" y2="306.00" stroke="#3a3a78" stroke-width="0.8" />
<line x1="22.70" y1="297.40" x2="24.00" y2="297.40" stroke="#3a3a78" stroke-width="0.8" />
<text x="22.70" y="381.80" font-size="7.2" text-anchor="middle" font-family='"Liberation Serif", serif' fill="#333" >0</text>
<text x="42.56" y="381.80" font-size="7.2" text-anchor="middle" font-family='"Liberation Serif", serif' fill="#333" >0.05</text>
<text x="62.42" y="381.80" font-size="7.2" text-anchor="middle" font-family='"Liberation Serif", serif' fill="#333" >0.1</text>
<text x="82.28" y="381.80" font-size="7.2" text-anchor="middle" font-family='"Liberation Serif", serif' fill="#333" >0.15</text>
<text x="102.14" y="381.80" font-size="7.2" text-anchor="middle" font-family='"Liberation Serif", serif' fill="#333" >0.2</text>
<text x="122.00" y="381.80" font-size="7.2" text-anchor="middle" font-family='"Liberation Serif", serif' fill="#333" >0.25</text>
<text x="72.70" y="389.20" font-size="7.8" text-anchor="middle" font-family='"Liberation Serif", serif' fill="#333" >Frequency (τ<tspan font-size="4.8" dy="-3">−1</tspan><tspan dy="3">)</tspan></text>
<text x="20.60" y="377.30" font-size="7.4" text-anchor="end" font-family='"Liberation Serif", serif' fill="#333" >0</text>
<text x="20.60" y="360.10" font-size="7.4" text-anchor="end" font-family='"Liberation Serif", serif' fill="#333" >0.5</text>
<text x="20.60" y="342.90" font-size="7.4" text-anchor="end" font-family='"Liberation Serif", serif' fill="#333" >1</text>
<text x="20.60" y="325.70" font-size="7.4" text-anchor="end" font-family='"Liberation Serif", serif' fill="#333" >1.5</text>
<text x="20.60" y="308.50" font-size="7.4" text-anchor="end" font-family='"Liberation Serif", serif' fill="#333" >2</text>
<text x="10.60" y="289.40" font-size="6.6" text-anchor="start" font-family='"Liberation Serif", serif' fill="#333" >×10<tspan font-size="4.4" dy="-2.6">−3</tspan></text>
<text transform="translate(10.8,337) rotate(-90)" font-size="7.6" text-anchor="middle" font-family='"Liberation Serif", serif' fill="#333"><tspan font-style="italic">Amplitude</tspan> × (2πν)<tspan font-size="5" dy="-2.5">2</tspan><tspan dy="2.5"> (σ/τ</tspan><tspan font-size="5" dy="-2.5">2</tspan><tspan dy="2.5">)</tspan></text>
<text x="78.70" y="336.50" font-size="9.8" text-anchor="middle" font-family='"Liberation Serif", serif' fill="#222" >resonance</text>
<text x="78.70" y="348.00" font-size="9.8" text-anchor="middle" font-family='"Liberation Serif", serif' fill="#222" >frequency</text>
<line x1="76.00" y1="354.40" x2="76.00" y2="368.20" stroke="#1f9a3a" stroke-width="1.3" />
<polygon points="76,372.2 73.8,366.7 78.2,366.7" fill="#1f9a3a"/>
<rect x="140.40" y="305.39" width="1.3" height="69.41" fill="#f2bebe"/>
<rect x="140.65" y="339.04" width="0.8" height="35.76" fill="#d44c4c"/>
<rect x="142.64" y="315.99" width="1.3" height="58.81" fill="#f2bebe"/>
<rect x="142.89" y="329.80" width="0.8" height="45.00" fill="#d44c4c"/>
<rect x="144.88" y="322.23" width="1.3" height="52.57" fill="#f2bebe"/>
<rect x="145.13" y="336.03" width="0.8" height="38.77" fill="#d44c4c"/>
<rect x="147.12" y="329.97" width="1.3" height="44.83" fill="#f2bebe"/>
<rect x="147.37" y="333.63" width="0.8" height="41.17" fill="#d44c4c"/>
<rect x="149.36" y="332.99" width="1.3" height="41.81" fill="#f2bebe"/>
<rect x="149.61" y="345.79" width="0.8" height="29.01" fill="#d44c4c"/>
<rect x="151.60" y="338.36" width="1.3" height="36.44" fill="#f2bebe"/>
<rect x="153.84" y="343.96" width="1.3" height="30.84" fill="#f2bebe"/>
<rect x="154.09" y="351.76" width="0.8" height="23.04" fill="#d44c4c"/>
<rect x="156.08" y="342.62" width="1.3" height="32.18" fill="#f2bebe"/>
<rect x="156.33" y="349.00" width="0.8" height="25.80" fill="#d44c4c"/>
<rect x="158.32" y="343.84" width="1.3" height="30.96" fill="#f2bebe"/>
<rect x="158.57" y="345.60" width="0.8" height="29.20" fill="#d44c4c"/>
<rect x="160.56" y="345.30" width="1.3" height="29.50" fill="#f2bebe"/>
<rect x="160.81" y="349.67" width="0.8" height="25.13" fill="#d44c4c"/>
<rect x="162.80" y="349.63" width="1.3" height="25.17" fill="#f2bebe"/>
<rect x="163.05" y="356.42" width="0.8" height="18.38" fill="#d44c4c"/>
<rect x="165.04" y="349.52" width="1.3" height="25.28" fill="#f2bebe"/>
<rect x="165.29" y="353.50" width="0.8" height="21.30" fill="#d44c4c"/>
<rect x="167.28" y="349.84" width="1.3" height="24.96" fill="#f2bebe"/>
<rect x="169.52" y="353.54" width="1.3" height="21.26" fill="#f2bebe"/>
<rect x="169.77" y="360.27" width="0.8" height="14.53" fill="#d44c4c"/>
<rect x="171.76" y="352.21" width="1.3" height="22.59" fill="#f2bebe"/>
<rect x="172.01" y="353.92" width="0.8" height="20.88" fill="#d44c4c"/>
<rect x="174.00" y="352.45" width="1.3" height="22.35" fill="#f2bebe"/>
<rect x="174.25" y="355.29" width="0.8" height="19.51" fill="#d44c4c"/>
<rect x="176.24" y="356.32" width="1.3" height="18.48" fill="#f2bebe"/>
<rect x="176.49" y="365.81" width="0.8" height="8.99" fill="#d44c4c"/>
<rect x="178.48" y="357.03" width="1.3" height="17.77" fill="#f2bebe"/>
<rect x="178.73" y="357.83" width="0.8" height="16.97" fill="#d44c4c"/>
<rect x="180.72" y="357.96" width="1.3" height="16.84" fill="#f2bebe"/>
<rect x="180.97" y="366.93" width="0.8" height="7.87" fill="#d44c4c"/>
<rect x="182.96" y="356.82" width="1.3" height="17.98" fill="#f2bebe"/>
<rect x="183.21" y="361.53" width="0.8" height="13.27" fill="#d44c4c"/>
<rect x="185.20" y="358.89" width="1.3" height="15.91" fill="#f2bebe"/>
<rect x="185.45" y="359.07" width="0.8" height="15.73" fill="#d44c4c"/>
<rect x="187.44" y="357.99" width="1.3" height="16.81" fill="#f2bebe"/>
<rect x="189.68" y="360.23" width="1.3" height="14.57" fill="#f2bebe"/>
<rect x="189.93" y="361.08" width="0.8" height="13.72" fill="#d44c4c"/>
<rect x="191.92" y="361.04" width="1.3" height="13.76" fill="#f2bebe"/>
<rect x="192.17" y="366.30" width="0.8" height="8.50" fill="#d44c4c"/>
<rect x="194.16" y="364.90" width="1.3" height="9.90" fill="#f2bebe"/>
<rect x="194.41" y="366.40" width="0.8" height="8.40" fill="#d44c4c"/>
<rect x="196.40" y="367.94" width="1.3" height="6.86" fill="#f2bebe"/>
<rect x="196.65" y="368.08" width="0.8" height="6.72" fill="#d44c4c"/>
<rect x="198.64" y="369.86" width="1.3" height="4.94" fill="#f2bebe"/>
<rect x="198.89" y="370.54" width="0.8" height="4.26" fill="#d44c4c"/>
<rect x="200.88" y="368.59" width="1.3" height="6.21" fill="#f2bebe"/>
<rect x="201.13" y="371.85" width="0.8" height="2.95" fill="#d44c4c"/>
<rect x="203.12" y="371.01" width="1.3" height="3.79" fill="#f2bebe"/>
<rect x="203.37" y="372.72" width="0.8" height="2.08" fill="#d44c4c"/>
<rect x="205.36" y="369.16" width="1.3" height="5.64" fill="#f2bebe"/>
<rect x="205.61" y="371.57" width="0.8" height="3.23" fill="#d44c4c"/>
<rect x="207.60" y="371.00" width="1.3" height="3.80" fill="#f2bebe"/>
<rect x="207.85" y="373.06" width="0.8" height="1.74" fill="#d44c4c"/>
<rect x="209.84" y="369.75" width="1.3" height="5.05" fill="#f2bebe"/>
<rect x="210.09" y="371.59" width="0.8" height="3.21" fill="#d44c4c"/>
<rect x="212.08" y="370.39" width="1.3" height="4.41" fill="#f2bebe"/>
<rect x="212.33" y="370.43" width="0.8" height="4.37" fill="#d44c4c"/>
<rect x="214.32" y="369.76" width="1.3" height="5.04" fill="#f2bebe"/>
<rect x="214.57" y="370.04" width="0.8" height="4.76" fill="#d44c4c"/>
<rect x="216.56" y="371.82" width="1.3" height="2.98" fill="#f2bebe"/>
<rect x="216.81" y="372.28" width="0.8" height="2.52" fill="#d44c4c"/>
<rect x="218.80" y="373.33" width="1.3" height="1.47" fill="#f2bebe"/>
<rect x="219.05" y="373.67" width="0.8" height="1.13" fill="#d44c4c"/>
<rect x="221.04" y="373.22" width="1.3" height="1.58" fill="#f2bebe"/>
<rect x="221.29" y="373.27" width="0.8" height="1.53" fill="#d44c4c"/>
<rect x="223.28" y="373.60" width="1.3" height="1.20" fill="#f2bebe"/>
<rect x="223.53" y="373.67" width="0.8" height="1.13" fill="#d44c4c"/>
<rect x="225.52" y="371.56" width="1.3" height="3.24" fill="#f2bebe"/>
<rect x="225.77" y="373.17" width="0.8" height="1.63" fill="#d44c4c"/>
<rect x="227.76" y="372.28" width="1.3" height="2.52" fill="#f2bebe"/>
<line x1="139.20" y1="288.50" x2="139.20" y2="374.80" stroke="#3a3a78" stroke-width="1.1" />
<line x1="139.20" y1="374.80" x2="239.50" y2="374.80" stroke="#3a3a78" stroke-width="1" />
<line x1="139.20" y1="374.80" x2="239.50" y2="374.80" stroke="#d86a6a" stroke-width="0.6" stroke-dasharray="1.2,4.5"/>
<line x1="139.20" y1="374.80" x2="141.60" y2="374.80" stroke="#3a3a78" stroke-width="0.8" />
<line x1="139.20" y1="366.20" x2="140.50" y2="366.20" stroke="#3a3a78" stroke-width="0.8" />
<line x1="139.20" y1="357.60" x2="141.60" y2="357.60" stroke="#3a3a78" stroke-width="0.8" />
<line x1="139.20" y1="349.00" x2="140.50" y2="349.00" stroke="#3a3a78" stroke-width="0.8" />
<line x1="139.20" y1="340.40" x2="141.60" y2="340.40" stroke="#3a3a78" stroke-width="0.8" />
<line x1="139.20" y1="331.80" x2="140.50" y2="331.80" stroke="#3a3a78" stroke-width="0.8" />
<line x1="139.20" y1="323.20" x2="141.60" y2="323.20" stroke="#3a3a78" stroke-width="0.8" />
<line x1="139.20" y1="314.60" x2="140.50" y2="314.60" stroke="#3a3a78" stroke-width="0.8" />
<line x1="139.20" y1="306.00" x2="141.60" y2="306.00" stroke="#3a3a78" stroke-width="0.8" />
<line x1="139.20" y1="297.40" x2="140.50" y2="297.40" stroke="#3a3a78" stroke-width="0.8" />
<text x="139.20" y="381.80" font-size="7.2" text-anchor="middle" font-family='"Liberation Serif", serif' fill="#333" >0</text>
<text x="159.06" y="381.80" font-size="7.2" text-anchor="middle" font-family='"Liberation Serif", serif' fill="#333" >0.05</text>
<text x="178.92" y="381.80" font-size="7.2" text-anchor="middle" font-family='"Liberation Serif", serif' fill="#333" >0.1</text>
<text x="198.78" y="381.80" font-size="7.2" text-anchor="middle" font-family='"Liberation Serif", serif' fill="#333" >0.15</text>
<text x="218.64" y="381.80" font-size="7.2" text-anchor="middle" font-family='"Liberation Serif", serif' fill="#333" >0.2</text>
<text x="238.50" y="381.80" font-size="7.2" text-anchor="middle" font-family='"Liberation Serif", serif' fill="#333" >0.25</text>
<text x="189.20" y="389.20" font-size="7.8" text-anchor="middle" font-family='"Liberation Serif", serif' fill="#333" >Frequency (τ<tspan font-size="4.8" dy="-3">−1</tspan><tspan dy="3">)</tspan></text>
<line x1="192.20" y1="339.60" x2="192.20" y2="352.60" stroke="#1f9a3a" stroke-width="1.3" />
<polygon points="192.2,356.6 190.0,351.1 194.39999999999998,351.1" fill="#1f9a3a"/>
<rect x="256.70" y="315.92" width="1.3" height="58.88" fill="#f2bebe"/>
<rect x="256.95" y="332.84" width="0.8" height="41.96" fill="#d44c4c"/>
<rect x="258.94" y="310.60" width="1.3" height="64.20" fill="#f2bebe"/>
<rect x="259.19" y="317.94" width="0.8" height="56.86" fill="#d44c4c"/>
<rect x="261.18" y="307.79" width="1.3" height="67.01" fill="#f2bebe"/>
<rect x="261.43" y="328.17" width="0.8" height="46.63" fill="#d44c4c"/>
<rect x="263.42" y="307.91" width="1.3" height="66.89" fill="#f2bebe"/>
<rect x="263.67" y="326.89" width="0.8" height="47.91" fill="#d44c4c"/>
<rect x="265.66" y="303.46" width="1.3" height="71.34" fill="#f2bebe"/>
<rect x="265.91" y="305.59" width="0.8" height="69.21" fill="#d44c4c"/>
<rect x="267.90" y="307.52" width="1.3" height="67.28" fill="#f2bebe"/>
<rect x="268.15" y="334.39" width="0.8" height="40.41" fill="#d44c4c"/>
<rect x="270.14" y="300.44" width="1.3" height="74.36" fill="#f2bebe"/>
<rect x="270.39" y="307.61" width="0.8" height="67.19" fill="#d44c4c"/>
<rect x="272.38" y="301.48" width="1.3" height="73.32" fill="#f2bebe"/>
<rect x="272.63" y="301.55" width="0.8" height="73.25" fill="#d44c4c"/>
<rect x="274.62" y="297.82" width="1.3" height="76.98" fill="#f2bebe"/>
<rect x="276.86" y="299.87" width="1.3" height="74.93" fill="#f2bebe"/>
<rect x="277.11" y="340.24" width="0.8" height="34.56" fill="#d44c4c"/>
<rect x="279.10" y="302.27" width="1.3" height="72.53" fill="#f2bebe"/>
<rect x="279.35" y="312.35" width="0.8" height="62.45" fill="#d44c4c"/>
<rect x="281.34" y="295.93" width="1.3" height="78.87" fill="#f2bebe"/>
<rect x="281.59" y="316.20" width="0.8" height="58.60" fill="#d44c4c"/>
<rect x="283.58" y="295.47" width="1.3" height="79.33" fill="#f2bebe"/>
<rect x="283.83" y="295.85" width="0.8" height="78.95" fill="#d44c4c"/>
<rect x="285.82" y="295.30" width="1.3" height="79.50" fill="#f2bebe"/>
<rect x="286.07" y="305.41" width="0.8" height="69.39" fill="#d44c4c"/>
<rect x="288.06" y="297.23" width="1.3" height="77.57" fill="#f2bebe"/>
<rect x="288.31" y="310.27" width="0.8" height="64.53" fill="#d44c4c"/>
<rect x="290.30" y="297.19" width="1.3" height="77.61" fill="#f2bebe"/>
<rect x="290.55" y="322.78" width="0.8" height="52.02" fill="#d44c4c"/>
<rect x="292.54" y="301.47" width="1.3" height="73.33" fill="#f2bebe"/>
<rect x="294.78" y="299.54" width="1.3" height="75.26" fill="#f2bebe"/>
<rect x="295.03" y="307.72" width="0.8" height="67.08" fill="#d44c4c"/>
<rect x="297.02" y="300.39" width="1.3" height="74.41" fill="#f2bebe"/>
<rect x="297.27" y="301.65" width="0.8" height="73.15" fill="#d44c4c"/>
<rect x="299.26" y="298.43" width="1.3" height="76.37" fill="#f2bebe"/>
<rect x="299.51" y="312.79" width="0.8" height="62.01" fill="#d44c4c"/>
<rect x="301.50" y="303.68" width="1.3" height="71.12" fill="#f2bebe"/>
<rect x="301.75" y="303.81" width="0.8" height="70.99" fill="#d44c4c"/>
<rect x="303.74" y="304.99" width="1.3" height="69.81" fill="#f2bebe"/>
<rect x="303.99" y="318.44" width="0.8" height="56.36" fill="#d44c4c"/>
<rect x="305.98" y="302.01" width="1.3" height="72.79" fill="#f2bebe"/>
<rect x="306.23" y="310.82" width="0.8" height="63.98" fill="#d44c4c"/>
<rect x="308.22" y="307.09" width="1.3" height="67.71" fill="#f2bebe"/>
<rect x="308.47" y="321.39" width="0.8" height="53.41" fill="#d44c4c"/>
<rect x="310.46" y="304.25" width="1.3" height="70.55" fill="#f2bebe"/>
<rect x="310.71" y="304.45" width="0.8" height="70.35" fill="#d44c4c"/>
<rect x="312.70" y="306.30" width="1.3" height="68.50" fill="#f2bebe"/>
<rect x="312.95" y="324.60" width="0.8" height="50.20" fill="#d44c4c"/>
<rect x="314.94" y="306.08" width="1.3" height="68.72" fill="#f2bebe"/>
<rect x="315.19" y="309.17" width="0.8" height="65.63" fill="#d44c4c"/>
<rect x="317.18" y="310.20" width="1.3" height="64.60" fill="#f2bebe"/>
<rect x="317.43" y="343.41" width="0.8" height="31.39" fill="#d44c4c"/>
<rect x="319.42" y="314.97" width="1.3" height="59.83" fill="#f2bebe"/>
<rect x="321.66" y="316.15" width="1.3" height="58.65" fill="#f2bebe"/>
<rect x="323.90" y="320.90" width="1.3" height="53.90" fill="#f2bebe"/>
<rect x="324.15" y="339.55" width="0.8" height="35.25" fill="#d44c4c"/>
<rect x="326.14" y="327.49" width="1.3" height="47.31" fill="#f2bebe"/>
<rect x="326.39" y="330.66" width="0.8" height="44.14" fill="#d44c4c"/>
<rect x="328.38" y="329.08" width="1.3" height="45.72" fill="#f2bebe"/>
<rect x="328.63" y="331.67" width="0.8" height="43.13" fill="#d44c4c"/>
<rect x="330.62" y="326.32" width="1.3" height="48.48" fill="#f2bebe"/>
<rect x="330.87" y="338.70" width="0.8" height="36.10" fill="#d44c4c"/>
<rect x="332.86" y="335.73" width="1.3" height="39.07" fill="#f2bebe"/>
<rect x="335.10" y="334.63" width="1.3" height="40.17" fill="#f2bebe"/>
<rect x="335.35" y="338.24" width="0.8" height="36.56" fill="#d44c4c"/>
<rect x="337.34" y="338.85" width="1.3" height="35.95" fill="#f2bebe"/>
<rect x="337.59" y="348.52" width="0.8" height="26.28" fill="#d44c4c"/>
<rect x="339.58" y="337.19" width="1.3" height="37.61" fill="#f2bebe"/>
<rect x="339.83" y="343.52" width="0.8" height="31.28" fill="#d44c4c"/>
<rect x="341.82" y="342.37" width="1.3" height="32.43" fill="#f2bebe"/>
<rect x="342.07" y="358.71" width="0.8" height="16.09" fill="#d44c4c"/>
<rect x="344.06" y="347.62" width="1.3" height="27.18" fill="#f2bebe"/>
<rect x="344.31" y="349.69" width="0.8" height="25.11" fill="#d44c4c"/>
<rect x="346.30" y="350.84" width="1.3" height="23.96" fill="#f2bebe"/>
<rect x="346.55" y="362.86" width="0.8" height="11.94" fill="#d44c4c"/>
<rect x="348.54" y="351.71" width="1.3" height="23.09" fill="#f2bebe"/>
<rect x="348.79" y="358.96" width="0.8" height="15.84" fill="#d44c4c"/>
<rect x="350.78" y="352.58" width="1.3" height="22.22" fill="#f2bebe"/>
<rect x="351.03" y="353.95" width="0.8" height="20.85" fill="#d44c4c"/>
<rect x="353.02" y="358.10" width="1.3" height="16.70" fill="#f2bebe"/>
<rect x="353.27" y="358.46" width="0.8" height="16.34" fill="#d44c4c"/>
<line x1="255.50" y1="288.50" x2="255.50" y2="374.80" stroke="#3a3a78" stroke-width="1.1" />
<line x1="255.50" y1="374.80" x2="355.20" y2="374.80" stroke="#3a3a78" stroke-width="1" />
<line x1="255.50" y1="374.80" x2="355.20" y2="374.80" stroke="#d86a6a" stroke-width="0.6" stroke-dasharray="1.2,4.5"/>
<line x1="255.50" y1="374.80" x2="257.90" y2="374.80" stroke="#3a3a78" stroke-width="0.8" />
<line x1="255.50" y1="366.20" x2="256.80" y2="366.20" stroke="#3a3a78" stroke-width="0.8" />
<line x1="255.50" y1="357.60" x2="257.90" y2="357.60" stroke="#3a3a78" stroke-width="0.8" />
<line x1="255.50" y1="349.00" x2="256.80" y2="349.00" stroke="#3a3a78" stroke-width="0.8" />
<line x1="255.50" y1="340.40" x2="257.90" y2="340.40" stroke="#3a3a78" stroke-width="0.8" />
<line x1="255.50" y1="331.80" x2="256.80" y2="331.80" stroke="#3a3a78" stroke-width="0.8" />
<line x1="255.50" y1="323.20" x2="257.90" y2="323.20" stroke="#3a3a78" stroke-width="0.8" />
<line x1="255.50" y1="314.60" x2="256.80" y2="314.60" stroke="#3a3a78" stroke-width="0.8" />
<line x1="255.50" y1="306.00" x2="257.90" y2="306.00" stroke="#3a3a78" stroke-width="0.8" />
<line x1="255.50" y1="297.40" x2="256.80" y2="297.40" stroke="#3a3a78" stroke-width="0.8" />
<text x="255.50" y="381.80" font-size="7.2" text-anchor="middle" font-family='"Liberation Serif", serif' fill="#333" >0</text>
<text x="275.24" y="381.80" font-size="7.2" text-anchor="middle" font-family='"Liberation Serif", serif' fill="#333" >0.05</text>
<text x="294.98" y="381.80" font-size="7.2" text-anchor="middle" font-family='"Liberation Serif", serif' fill="#333" >0.1</text>
<text x="314.72" y="381.80" font-size="7.2" text-anchor="middle" font-family='"Liberation Serif", serif' fill="#333" >0.15</text>
<text x="334.46" y="381.80" font-size="7.2" text-anchor="middle" font-family='"Liberation Serif", serif' fill="#333" >0.2</text>
<text x="354.20" y="381.80" font-size="7.2" text-anchor="middle" font-family='"Liberation Serif", serif' fill="#333" >0.25</text>
<text x="305.50" y="389.20" font-size="7.8" text-anchor="middle" font-family='"Liberation Serif", serif' fill="#333" >Frequency (τ<tspan font-size="4.8" dy="-3">−1</tspan><tspan dy="3">)</tspan></text>
<line x1="309.10" y1="290.80" x2="309.10" y2="304.40" stroke="#1f9a3a" stroke-width="1.3" />
<polygon points="309.1,308.4 306.90000000000003,302.9 311.3,302.9" fill="#1f9a3a"/>
<rect x="373.30" y="336.74" width="1.3" height="38.06" fill="#f2bebe"/>
<rect x="373.55" y="348.14" width="0.8" height="26.66" fill="#d44c4c"/>
<rect x="375.54" y="336.46" width="1.3" height="38.34" fill="#f2bebe"/>
<rect x="375.79" y="338.47" width="0.8" height="36.33" fill="#d44c4c"/>
<rect x="377.78" y="326.26" width="1.3" height="48.54" fill="#f2bebe"/>
<rect x="378.03" y="342.54" width="0.8" height="32.26" fill="#d44c4c"/>
<rect x="380.02" y="323.37" width="1.3" height="51.43" fill="#f2bebe"/>
<rect x="380.27" y="325.77" width="0.8" height="49.03" fill="#d44c4c"/>
<rect x="382.26" y="323.20" width="1.3" height="51.60" fill="#f2bebe"/>
<rect x="382.51" y="344.57" width="0.8" height="30.23" fill="#d44c4c"/>
<rect x="384.50" y="324.07" width="1.3" height="50.73" fill="#f2bebe"/>
<rect x="384.75" y="327.62" width="0.8" height="47.18" fill="#d44c4c"/>
<rect x="386.74" y="319.91" width="1.3" height="54.89" fill="#f2bebe"/>
<rect x="388.98" y="324.10" width="1.3" height="50.70" fill="#f2bebe"/>
<rect x="389.23" y="344.65" width="0.8" height="30.15" fill="#d44c4c"/>
<rect x="391.22" y="323.19" width="1.3" height="51.61" fill="#f2bebe"/>
<rect x="393.46" y="323.07" width="1.3" height="51.73" fill="#f2bebe"/>
<rect x="393.71" y="345.01" width="0.8" height="29.79" fill="#d44c4c"/>
<rect x="395.70" y="320.47" width="1.3" height="54.33" fill="#f2bebe"/>
<rect x="395.95" y="332.42" width="0.8" height="42.38" fill="#d44c4c"/>
<rect x="397.94" y="319.61" width="1.3" height="55.19" fill="#f2bebe"/>
<rect x="398.19" y="327.47" width="0.8" height="47.33" fill="#d44c4c"/>
<rect x="400.18" y="318.31" width="1.3" height="56.49" fill="#f2bebe"/>
<rect x="400.43" y="340.91" width="0.8" height="33.89" fill="#d44c4c"/>
<rect x="402.42" y="321.04" width="1.3" height="53.76" fill="#f2bebe"/>
<rect x="404.66" y="319.63" width="1.3" height="55.17" fill="#f2bebe"/>
<rect x="404.91" y="338.71" width="0.8" height="36.09" fill="#d44c4c"/>
<rect x="406.90" y="315.07" width="1.3" height="59.73" fill="#f2bebe"/>
<rect x="407.15" y="324.01" width="0.8" height="50.79" fill="#d44c4c"/>
<rect x="409.14" y="314.70" width="1.3" height="60.10" fill="#f2bebe"/>
<rect x="409.39" y="326.41" width="0.8" height="48.39" fill="#d44c4c"/>
<rect x="411.38" y="314.58" width="1.3" height="60.22" fill="#f2bebe"/>
<rect x="411.63" y="329.42" width="0.8" height="45.38" fill="#d44c4c"/>
<rect x="413.62" y="314.91" width="1.3" height="59.89" fill="#f2bebe"/>
<rect x="413.87" y="325.46" width="0.8" height="49.34" fill="#d44c4c"/>
<rect x="415.86" y="314.99" width="1.3" height="59.81" fill="#f2bebe"/>
<rect x="416.11" y="317.39" width="0.8" height="57.41" fill="#d44c4c"/>
<rect x="418.10" y="317.62" width="1.3" height="57.18" fill="#f2bebe"/>
<rect x="418.35" y="333.46" width="0.8" height="41.34" fill="#d44c4c"/>
<rect x="420.34" y="323.45" width="1.3" height="51.35" fill="#f2bebe"/>
<rect x="420.59" y="340.10" width="0.8" height="34.70" fill="#d44c4c"/>
<rect x="422.58" y="325.02" width="1.3" height="49.78" fill="#f2bebe"/>
<rect x="422.83" y="326.22" width="0.8" height="48.58" fill="#d44c4c"/>
<rect x="424.82" y="324.33" width="1.3" height="50.47" fill="#f2bebe"/>
<rect x="425.07" y="337.89" width="0.8" height="36.91" fill="#d44c4c"/>
<rect x="427.06" y="320.00" width="1.3" height="54.80" fill="#f2bebe"/>
<rect x="427.31" y="344.04" width="0.8" height="30.76" fill="#d44c4c"/>
<rect x="429.30" y="325.27" width="1.3" height="49.53" fill="#f2bebe"/>
<rect x="429.55" y="327.39" width="0.8" height="47.41" fill="#d44c4c"/>
<rect x="431.54" y="325.98" width="1.3" height="48.82" fill="#f2bebe"/>
<rect x="431.79" y="341.73" width="0.8" height="33.07" fill="#d44c4c"/>
<rect x="433.78" y="322.08" width="1.3" height="52.72" fill="#f2bebe"/>
<rect x="436.02" y="326.45" width="1.3" height="48.35" fill="#f2bebe"/>
<rect x="436.27" y="328.67" width="0.8" height="46.13" fill="#d44c4c"/>
<rect x="438.26" y="327.72" width="1.3" height="47.08" fill="#f2bebe"/>
<rect x="438.51" y="338.89" width="0.8" height="35.91" fill="#d44c4c"/>
<rect x="440.50" y="329.51" width="1.3" height="45.29" fill="#f2bebe"/>
<rect x="440.75" y="333.97" width="0.8" height="40.83" fill="#d44c4c"/>
<rect x="442.74" y="332.66" width="1.3" height="42.14" fill="#f2bebe"/>
<rect x="442.99" y="345.28" width="0.8" height="29.52" fill="#d44c4c"/>
<rect x="444.98" y="334.97" width="1.3" height="39.83" fill="#f2bebe"/>
<rect x="445.23" y="335.28" width="0.8" height="39.52" fill="#d44c4c"/>
<rect x="447.22" y="342.73" width="1.3" height="32.07" fill="#f2bebe"/>
<rect x="447.47" y="349.37" width="0.8" height="25.43" fill="#d44c4c"/>
<rect x="449.46" y="342.61" width="1.3" height="32.19" fill="#f2bebe"/>
<rect x="449.71" y="345.80" width="0.8" height="29.00" fill="#d44c4c"/>
<rect x="451.70" y="347.09" width="1.3" height="27.71" fill="#f2bebe"/>
<rect x="451.95" y="362.28" width="0.8" height="12.52" fill="#d44c4c"/>
<rect x="453.94" y="351.34" width="1.3" height="23.46" fill="#f2bebe"/>
<rect x="454.19" y="352.92" width="0.8" height="21.88" fill="#d44c4c"/>
<rect x="456.18" y="357.64" width="1.3" height="17.16" fill="#f2bebe"/>
<rect x="456.43" y="360.46" width="0.8" height="14.34" fill="#d44c4c"/>
<rect x="458.42" y="359.01" width="1.3" height="15.79" fill="#f2bebe"/>
<rect x="458.67" y="359.01" width="0.8" height="15.79" fill="#d44c4c"/>
<rect x="460.66" y="361.76" width="1.3" height="13.04" fill="#f2bebe"/>
<rect x="460.91" y="368.59" width="0.8" height="6.21" fill="#d44c4c"/>
<rect x="462.90" y="365.62" width="1.3" height="9.18" fill="#f2bebe"/>
<rect x="463.15" y="368.28" width="0.8" height="6.52" fill="#d44c4c"/>
<rect x="465.14" y="365.58" width="1.3" height="9.22" fill="#f2bebe"/>
<rect x="465.39" y="367.26" width="0.8" height="7.54" fill="#d44c4c"/>
<rect x="467.38" y="371.38" width="1.3" height="3.42" fill="#f2bebe"/>
<rect x="467.63" y="371.60" width="0.8" height="3.20" fill="#d44c4c"/>
<rect x="469.62" y="371.30" width="1.3" height="3.50" fill="#f2bebe"/>
<rect x="469.87" y="371.52" width="0.8" height="3.28" fill="#d44c4c"/>
<line x1="372.10" y1="288.50" x2="372.10" y2="374.80" stroke="#3a3a78" stroke-width="1.1" />
<line x1="372.10" y1="374.80" x2="471.80" y2="374.80" stroke="#3a3a78" stroke-width="1" />
<line x1="372.10" y1="374.80" x2="471.80" y2="374.80" stroke="#d86a6a" stroke-width="0.6" stroke-dasharray="1.2,4.5"/>
<line x1="372.10" y1="374.80" x2="374.50" y2="374.80" stroke="#3a3a78" stroke-width="0.8" />
<line x1="372.10" y1="366.20" x2="373.40" y2="366.20" stroke="#3a3a78" stroke-width="0.8" />
<line x1="372.10" y1="357.60" x2="374.50" y2="357.60" stroke="#3a3a78" stroke-width="0.8" />
<line x1="372.10" y1="349.00" x2="373.40" y2="349.00" stroke="#3a3a78" stroke-width="0.8" />
<line x1="372.10" y1="340.40" x2="374.50" y2="340.40" stroke="#3a3a78" stroke-width="0.8" />
<line x1="372.10" y1="331.80" x2="373.40" y2="331.80" stroke="#3a3a78" stroke-width="0.8" />
<line x1="372.10" y1="323.20" x2="374.50" y2="323.20" stroke="#3a3a78" stroke-width="0.8" />
<line x1="372.10" y1="314.60" x2="373.40" y2="314.60" stroke="#3a3a78" stroke-width="0.8" />
<line x1="372.10" y1="306.00" x2="374.50" y2="306.00" stroke="#3a3a78" stroke-width="0.8" />
<line x1="372.10" y1="297.40" x2="373.40" y2="297.40" stroke="#3a3a78" stroke-width="0.8" />
<text x="372.10" y="381.80" font-size="7.2" text-anchor="middle" font-family='"Liberation Serif", serif' fill="#333" >0</text>
<text x="391.84" y="381.80" font-size="7.2" text-anchor="middle" font-family='"Liberation Serif", serif' fill="#333" >0.05</text>
<text x="411.58" y="381.80" font-size="7.2" text-anchor="middle" font-family='"Liberation Serif", serif' fill="#333" >0.1</text>
<text x="431.32" y="381.80" font-size="7.2" text-anchor="middle" font-family='"Liberation Serif", serif' fill="#333" >0.15</text>
<text x="451.06" y="381.80" font-size="7.2" text-anchor="middle" font-family='"Liberation Serif", serif' fill="#333" >0.2</text>
<text x="470.80" y="381.80" font-size="7.2" text-anchor="middle" font-family='"Liberation Serif", serif' fill="#333" >0.25</text>
<text x="422.10" y="389.20" font-size="7.8" text-anchor="middle" font-family='"Liberation Serif", serif' fill="#333" >Frequency (τ<tspan font-size="4.8" dy="-3">−1</tspan><tspan dy="3">)</tspan></text>
<line x1="424.80" y1="306.10" x2="424.80" y2="318.60" stroke="#1f9a3a" stroke-width="1.3" />
<polygon points="424.8,322.6 422.6,317.1 427.0,317.1" fill="#1f9a3a"/></svg>
</body></html>
